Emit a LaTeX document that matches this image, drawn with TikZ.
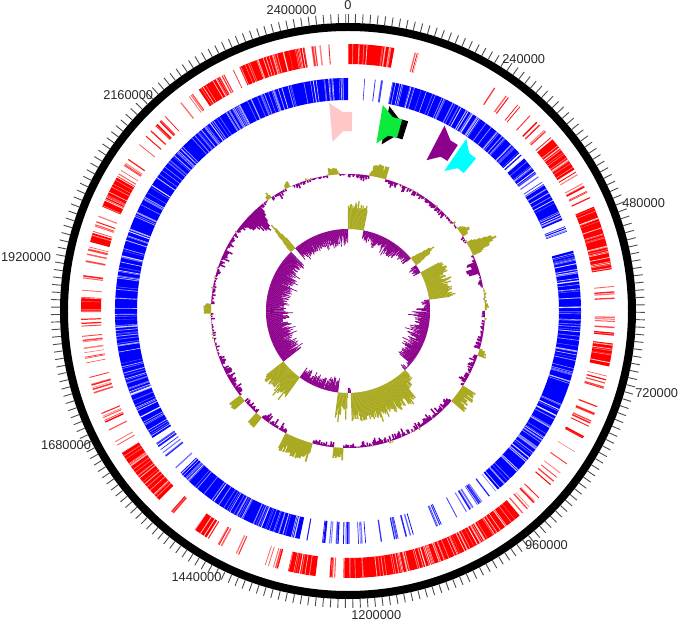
\documentclass[tikz,border=0pt]{standalone}
\usepackage{fontspec}
\setmainfont{Liberation Sans}
\definecolor{gcpos}{RGB}{170,170,34}
\definecolor{gcneg}{RGB}{140,0,140}
\definecolor{fpink}{RGB}{255,200,200}
\definecolor{fgreen}{RGB}{10,235,60}
\definecolor{fpurple}{RGB}{140,0,140}
\definecolor{fcyan}{RGB}{0,255,255}
\definecolor{genered}{RGB}{255,0,0}
\definecolor{geneblue}{RGB}{0,0,255}
\definecolor{ticktext}{RGB}{40,40,40}
\tikzset{
  backbone/.style={line width=8pt,black},
  tickmark/.style={line width=0.9pt,black!70},
  lbl/.style={inner sep=0pt,text=ticktext,font=\fontsize{12.8}{14}\selectfont},
}
% GC plots: #1 baseline radius, #2 list a/b/m1/m2/s
\newcommand\gcring[2]{%
 \foreach \ra/\rb/\ma/\mb/\sa in {#2}{%
  \pgfmathtruncatemacro\nn{round((\rb-\ra)*2)-1}%
  \foreach \ii in {0,...,\nn}{%
   \pgfmathsetmacro\ang{\ra+0.5*\ii}%
   \pgfmathsetmacro\vv{\ma+(\mb-\ma)*(\ang-\ra)/(\rb-\ra)+\sa*(2*rnd-1)*(0.4+1.3*rnd*rnd)}%
   \pgfmathsetmacro\pa{90-\ang+0.08}%
   \pgfmathsetmacro\pb{90-\ang-0.58}%
   \pgfmathsetmacro\rr{#1+\vv}%
   \ifdim\vv pt>0pt\def\gccol{gcpos}\else\def\gccol{gcneg}\fi
   \fill[\gccol] (\pa:#1) -- (\pa:\rr) -- (\pb:\rr) -- (\pb:#1) -- cycle;
  }}}
% sparse genes: #1 r1, #2 r2, #3 colour, #4 list a/b/n
\newcommand\genelines[4]{%
 \foreach \ra/\rb/\nn in {#4}{%
  \foreach \ii in {1,...,\nn}{%
   \pgfmathsetmacro\ang{90-\ra-(\rb-\ra)*rnd}%
   \pgfmathsetmacro\lw{0.5+1.0*rnd}%
   \pgfmathsetmacro\op{0.45+0.55*rnd}%
   \draw[#3,line width=\lw pt,draw opacity=\op] (\ang:#1) -- (\ang:#2);
  }}}
% dense genes: #1 r1, #2 r2, #3 colour, #4 list a/b/n (n light stripes)
\newcommand\geneblock[4]{%
 \foreach \ra/\rb/\nn in {#4}{%
  \pgfmathsetmacro\pa{90-\ra}\pgfmathsetmacro\pb{90-\rb}%
  \fill[#3] (\pa:#2) arc[start angle=\pa,end angle=\pb,radius=#2] -- (\pb:#1) arc[start angle=\pb,end angle=\pa,radius=#1] -- cycle;
  \foreach \ii in {1,...,\nn}{%
   \pgfmathsetmacro\ang{90-\ra-(\rb-\ra)*rnd}%
   \pgfmathsetmacro\lw{0.3+0.6*rnd}%
   \pgfmathsetmacro\op{0.3+0.6*rnd}%
   \draw[white,line width=\lw pt,draw opacity=\op] (\ang:#1) -- (\ang:#2);
  }}}
% feature arrows: wide, neck, end angle, colour
\newcommand\feat[4]{%
 \pgfmathsetmacro\pw{90-#1}\pgfmathsetmacro\pn{90-#2}\pgfmathsetmacro\pe{90-#3}%
 \fill[#4] (\pw:209) -- (\pn:199) arc[start angle=\pn,end angle=\pe,radius=199] -- (\pe:180) arc[start angle=\pe,end angle=\pn,radius=180] -- (\pw:170) -- cycle;}
\begin{document}
\begin{tikzpicture}[x=1pt,y=1pt]
\useasboundingbox (-348,-318) rectangle (337,311);
\pgfmathsetseed{4711}
% backbone and ticks
\draw[backbone] (0,0) circle[radius=284];
\foreach \k in {0,...,247}{%
  \pgfmathsetmacro\ang{90-\k*1.455722}%
  \draw[tickmark] (\ang:288) -- (\ang:297);}
\foreach \k/\lab in {0/0,1/240000,2/480000,3/720000,4/960000,5/1200000,6/1440000,7/1680000,8/1920000,9/2160000,10/2400000}{%
  \pgfmathsetmacro\ang{90-\k*24*1.455722}%
  \pgfmathtruncatemacro\anc{round(\ang+180)}%
  \node[lbl,anchor=\anc] (L\k) at (\ang:301) {\lab};}
% red genes
\geneblock{247}{267}{genered}{0/10/14,50/58/12,67/81/22,97/102/7,140/181/65,187/193/9,212/215/4,225/238/20,270/273/4,285/287/2,293/300/10,326/331/7,336/350/22}
\genelines{247}{267}{genered}{10/45/9,45/50/6,58/62/3,62/66/5,81/88/4,88/93/3,93/96/5,103/108/5,110/116/8,117/122/5,124/130/4,130/136/5,136/140/4,182/185/4,195/200/6,203/206/2,208/212/5,218/222/3,239/241/2,243/248/7,252/256/6,258/262/5,263/267/4,267/270/3,274/279/3,280/284/6,287/292/5,300/308/7,308/313/3,313/318/6,320/325/5,331/336/4,350/357/8}
% blue genes
\geneblock{211}{233}{geneblue}{11/47/50,49/53/6,57/67/14,75/140/95,192/226/50,237/360/170}
\genelines{211}{233}{geneblue}{4/10/5,47/49/2,53/57/5,68/74/4,140/150/12,152/158/5,162/170/7,171/174/2,175/178/4,179/187/14,188/191/2,227/236/9}
% features
\feat{-5.2}{-1.5}{1.2}{fpink}
\feat{11.4}{14.8}{17.6}{black}
\feat{9.6}{13}{15.8}{fgreen}
\feat{27.5}{31}{33.5}{fpurple}
\feat{34.5}{37.5}{40}{fcyan}
% GC content (outer)
\gcring{137}{0/4/-2/-2/3,4/9/-3/-3/4,9/10/3/6/2,10/16/12/12/3,16/22/-3/-3/4,22/30/-4/-4/5,30/38/-2/-2/4,38/45/-3/-3/4,45/53/-1/-1/3,53/55/3/10/2,55/57/10/3/2,57/60/-2/-2/3,60/63/6/30/3,63/66/30/4/3,66/69/-2/-2/3,69/74/-9/-13/4,74/80/-2/-2/3,80/90/1/1/3,90/100/-2/-2/3,100/106/-4/-4/4,106/109/4/9/3,109/123/-3/-3/4,123/131/14/14/5,131/150/-4/-4/5,150/175/-3/-3/5,175/182/-2/-2/3,182/186/10/10/3,186/195/-3/-3/3,195/207/16/16/5,207/219/-4/-4/5,219/222/12/12/3,222/229/-3/-3/4,229/232/14/14/3,232/250/-4/-4/4,250/269/-1/-1/3,269/273/6/6/2,273/290/-2/-2/3,290/300/-3/-3/4,300/308/-2/-2/3,308/316/-5/-24/4,316/320/-24/-4/4,320/324/-2/-2/3,324/326/4/4/2,326/333/-3/-3/4,333/335/6/6/2,335/345/-2/-2/4,345/352/-1/-1/3,352/356/6/6/2,356/360/-1/-1/3}
% GC skew (inner)
\gcring{82}{0/11/22/24/5,11/20/-8/-8/5,20/40/-11/-11/7,40/50/-8/-8/5,50/53/5/26/3,53/56/26/5/3,56/62/-6/-6/4,62/82/22/22/6,82/88/-5/-5/4,88/130/-13/-13/8,130/136/-2/-2/4,136/142/8/18/5,142/178/26/26/6,178/180/-5/-5/2,180/187/20/20/12,187/200/-10/-10/6,200/216/-9/-9/6,216/232/24/24/6,232/300/-19/-19/8,300/316/-15/-15/7,316/318/6/34/2,318/320/34/6/2,320/360/-13/-13/7}
\end{tikzpicture}
\end{document}
